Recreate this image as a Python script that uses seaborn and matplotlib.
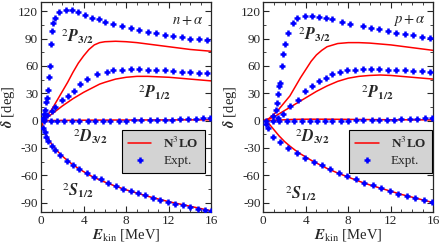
import numpy as np
import pandas as pd
import matplotlib
matplotlib.use("Agg")
import matplotlib.pyplot as plt
from matplotlib.ticker import MultipleLocator
from matplotlib.lines import Line2D
import seaborn as sns

# theory grid (MeV)
e_th = [0, 0.5, 1, 1.5, 2, 2.5, 3, 3.5, 4, 4.5, 5, 5.5, 6, 7, 8, 9, 10, 11, 12, 13, 14, 15, 16]

# n + alpha, N3LO
n_p32_th = [0, 4, 12, 22, 32, 42, 53, 63, 71, 78, 83, 85.5, 86.5, 87, 86.5, 85.5, 84, 82.5, 81, 79.5, 78, 77, 76]
n_p12_th = [0, 3, 7, 11.5, 16, 20, 24, 27.5, 31, 34, 37, 40, 42, 45.5, 47.5, 48.5, 48.5, 48, 47.5, 46.5, 45.5, 44.5, 43.5]
n_d32_th = [0, 0, 0.1, 0.1, 0.2, 0.2, 0.3, 0.3, 0.4, 0.4, 0.5, 0.5, 0.5, 0.6, 0.6, 0.6, 0.7, 0.7, 0.7, 0.8, 0.8, 0.8, 0.9]
n_s12_th = [0, -16, -26, -33, -39, -44, -48.5, -52.5, -56, -59.5, -62.5, -65, -67.5, -72, -76, -79.5, -83, -86, -89, -91.5, -94, -96.5, -99]

# p + alpha, N3LO
p_p32_th = [0, 2, 7, 13, 20, 27, 37, 47, 56, 65, 72, 77, 81, 84.5, 85.5, 85.5, 85, 84, 83, 81.5, 80, 78.5, 77]
p_p12_th = [0, 1.5, 4, 7.5, 11, 14.5, 18, 21.5, 25, 28.5, 32, 35, 38, 43, 46.5, 48.5, 49.5, 50, 49.5, 48.5, 47.5, 46.5, 45.5]
p_d32_th = [0, 0.1, 0.3, 0.6, 0.9, 1.1, 1.3, 1.4, 1.5, 1.5, 1.5, 1.5, 1.5, 1.4, 1.3, 1.2, 1.1, 1.0, 0.9, 0.9, 0.8, 0.8, 0.7]
p_s12_th = [0, -3, -10, -17, -23, -28, -32.5, -36.5, -40, -43.5, -46.5, -49.5, -52.5, -57.5, -62, -66.5, -70.5, -74, -77.5, -81, -84, -87, -90]

# n + alpha, experiment
n_p32_e = [0.2, 0.3, 0.4, 0.5, 0.6, 0.7, 0.75, 0.85, 0.95, 1.0, 1.1, 1.3, 1.7, 2.3, 2.9, 3.5, 4.1, 4.8, 5.4, 6.0,
           6.8, 7.6, 8.4, 9.2, 10.0, 10.8, 11.6, 12.4, 13.2, 14.0, 14.8, 15.6]
n_p32_v = [3, 7, 12, 20, 25, 34, 48, 60, 84, 98, 107, 113, 119, 121, 121, 119, 116, 113, 111, 108.5,
           106, 104, 102, 99.5, 97.5, 95.8, 94, 93, 91.5, 90, 89, 88]
n_p12_e = [0.3, 0.6, 1.0, 1.3, 1.95, 2.5, 3.05, 3.7, 4.3, 5.25, 6.2, 6.8, 7.6, 8.4, 9.2, 10.0, 10.8, 11.6, 12.4,
           13.2, 14.0, 14.8, 15.6]
n_p12_v = [2, 6, 11, 15, 23, 27, 32, 40, 46, 51, 53.6, 55.5, 56, 56.2, 56.2, 56, 55.5, 55, 54.4, 53.5, 53, 52.5, 52]
n_d32_e = [0.3, 0.9, 1.5, 2.2, 2.9, 3.6, 4.4, 5.1, 5.8, 6.5, 7.3, 8.0, 8.7, 9.4, 10.2, 10.9, 11.6, 12.3, 13.0,
           13.8, 14.5, 15.2, 15.9]
n_d32_v = [0, 0, 0, 0, 0, 0, 0, 0, 0, 0, 0, 0, 0.2, 0.3, 0.5, 0.6, 0.8, 1.0, 1.3, 1.6, 2.0, 2.5, 3.0]
n_s12_e = [0.2, 0.35, 0.5, 0.7, 1.0, 1.3, 1.8, 2.4, 3.0, 3.6, 4.3, 5.0, 5.6, 6.3, 7.0, 7.7, 8.4, 9.1, 9.8,
           10.5, 11.2, 11.9, 12.6, 13.3, 14.0, 14.7, 15.4, 16.0]
n_s12_v = [-8, -13, -18, -22, -28, -32, -38, -44, -49, -53, -57.5, -61.5, -64.5, -68, -71.5, -74.5, -77,
           -79.5, -82, -84.5, -87, -89, -91, -93, -95, -96.5, -98, -99.5]

# p + alpha, experiment
p_p32_e = [0.93, 1.16, 1.26, 1.35, 1.48, 1.57, 1.8, 1.9, 2.05, 2.36, 2.75, 3.16, 3.95, 4.6, 5.2, 5.86, 6.5,
           7.45, 8.2, 9.35, 10.1, 10.9, 11.7, 12.5, 13.3, 14.1, 14.9, 15.7]
p_p32_v = [5, 12, 19.6, 28.8, 38, 41.5, 60, 72.7, 83.7, 96.5, 107.5, 113, 114.5, 114.5, 114, 112.5, 111,
           108.6, 106, 104, 102, 100, 98, 96.5, 95, 93.5, 92, 91]
p_p12_e = [1.4, 1.9, 2.5, 3.3, 3.95, 4.6, 5.2, 5.86, 6.5, 7.2, 7.9, 8.6, 9.35, 10.1, 10.9, 11.7, 12.5, 13.3,
           14.1, 14.9, 15.7]
p_p12_v = [3, 7, 16, 23, 32.4, 38, 43.4, 47, 50.8, 53.5, 55, 56, 56.5, 56.5, 56.5, 56, 55.5, 55, 54.5, 54, 53]
p_d32_e = [0.3, 0.9, 1.5, 2.2, 2.9, 3.6, 4.4, 5.1, 5.8, 6.5, 7.3, 8.0, 8.7, 9.4, 10.2, 10.9, 11.6, 12.3, 13.0,
           13.8, 14.5, 15.2, 15.9]
p_d32_v = [0, 0, 0, 0, 0, 0, 0, 0, 0, 0, 0, 0, 0.2, 0.3, 0.5, 0.6, 0.8, 1.0, 1.3, 1.6, 2.0, 2.5, 3.0]
p_s12_e = [0.3, 0.46, 0.94, 1.57, 2.36, 3.16, 3.95, 4.75, 5.5, 6.3, 7.1, 7.9, 8.7, 9.5, 10.3, 11.1, 11.9,
           12.7, 13.5, 14.3, 15.1, 15.9]
p_s12_v = [-4, -8, -18, -24, -30.5, -36, -41, -45, -49, -53, -57, -61, -64.5, -68, -71, -74, -77, -80,
           -82.5, -85, -87, -89]

panels = [
    dict(name=r"$n+\alpha$",
         th=[n_p32_th, n_p12_th, n_d32_th, n_s12_th],
         ex=[(n_p32_e, n_p32_v), (n_p12_e, n_p12_v), (n_d32_e, n_d32_v), (n_s12_e, n_s12_v)],
         labels=[(1.9, 92), (9.1, 31), (3.0, -18), (2.0, -77)],
         legend_x=0.96),
    dict(name=r"$p+\alpha$",
         th=[p_p32_th, p_p12_th, p_d32_th, p_s12_th],
         ex=[(p_p32_e, p_p32_v), (p_p12_e, p_p12_v), (p_d32_e, p_d32_v), (p_s12_e, p_s12_v)],
         labels=[(3.3, 94), (9.2, 31), (3.0, -18), (2.0, -80)],
         legend_x=0.995),
]
wave_names = [r"$^{2}\mathbfit{P}_{\mathbf{3/2}}$", r"$^{2}\mathbfit{P}_{\mathbf{1/2}}$",
              r"$^{2}\mathbfit{D}_{\mathbf{3/2}}$", r"$^{2}\mathbfit{S}_{\mathbf{1/2}}$"]

sns.set_style("ticks")
plt.rcParams["font.family"] = ["Liberation Serif", "DejaVu Serif"]
plt.rcParams["mathtext.fontset"] = "stix"
plt.rcParams["axes.unicode_minus"] = False
plt.rcParams["font.size"] = 9

fig = plt.figure(figsize=(4.42, 2.42), dpi=100)
ax_l = fig.add_axes([0.0928, 0.125, 0.3857, 0.8665])
ax_r = fig.add_axes([0.5957, 0.125, 0.3846, 0.8665])

for ax, p in zip([ax_l, ax_r], panels):
    for vals in p["th"]:
        sns.lineplot(x=e_th, y=vals, color="red", linewidth=1.1, ax=ax, zorder=2)
    for e, v in p["ex"]:
        sns.scatterplot(x=e, y=v, marker="+", color="blue", s=24, linewidth=1.8, ax=ax, zorder=3)
    for (x, y), t in zip(p["labels"], wave_names):
        ax.text(x, y, t, fontsize=11.5, ha="left", va="center")
    ax.text(15.3, 110, p["name"], fontsize=10.5, ha="right", va="center")
    ax.set_xlim(0, 16)
    ax.set_ylim(-100, 130)
    ax.xaxis.set_major_locator(MultipleLocator(4))
    ax.xaxis.set_minor_locator(MultipleLocator(1))
    ax.yaxis.set_major_locator(MultipleLocator(30))
    ax.yaxis.set_minor_locator(MultipleLocator(15))
    ax.tick_params(which="both", direction="in", top=True, right=True, labelsize=9.5, pad=2)
    ax.tick_params(which="major", length=4)
    ax.tick_params(which="minor", length=2)
    for s in ax.spines.values():
        s.set_linewidth(0.9)
    ax.set_xlabel(r"$\mathbfit{E}_{\mathrm{kin}}$ [MeV]", fontsize=10.5, labelpad=0)
    ax.set_ylabel(r"$\mathbfit{\delta}$ [deg]", fontsize=10.5, labelpad=1)
    handles = [Line2D([], [], color="red", linewidth=1.1),
               Line2D([], [], color="blue", marker="+", linestyle="none", markersize=5, markeredgewidth=1.8)]
    leg = ax.legend(handles, [r"N$^3$LO", "Expt."], loc="lower right",
                    bbox_to_anchor=(p["legend_x"], 0.184), borderaxespad=0, fancybox=False, framealpha=1,
                    facecolor="#d3d3d3", edgecolor="black", fontsize=9.5,
                    handlelength=1.8, borderpad=0.45, labelspacing=0.3, handletextpad=0.9)
    leg.get_frame().set_linewidth(0.8)
    leg.get_texts()[0].set_fontweight("bold")

fig.savefig("out.png", dpi=100)
